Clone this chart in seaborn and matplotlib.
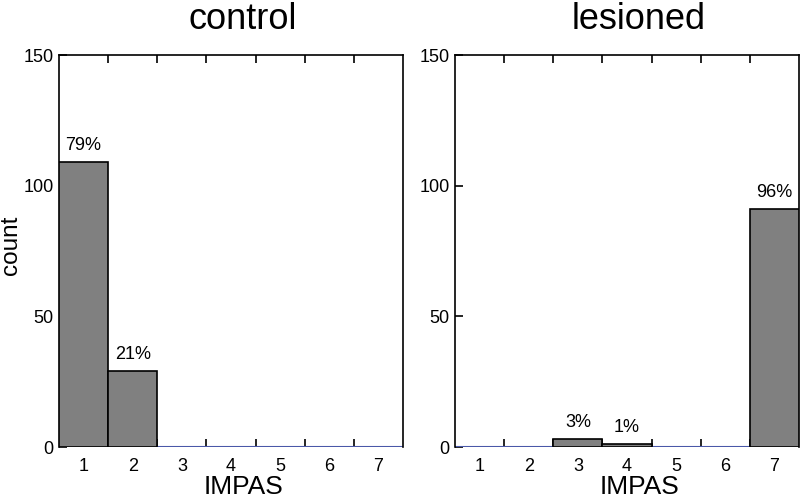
import matplotlib
matplotlib.use("Agg")
import matplotlib.pyplot as plt
import seaborn as sns
import pandas as pd
import numpy as np

sns.set_style("white")
plt.rcParams['font.family'] = ['Liberation Sans', 'DejaVu Sans']
plt.rcParams['text.color'] = 'black'
plt.rcParams['axes.labelcolor'] = 'black'
plt.rcParams['xtick.color'] = 'black'
plt.rcParams['ytick.color'] = 'black'

impas = [1, 2, 3, 4, 5, 6, 7]
control_counts = [109, 29, 0, 0, 0, 0, 0]
lesioned_counts = [0, 0, 3, 1, 0, 0, 91]
control_pct = ["79%", "21%", "", "", "", "", ""]
lesioned_pct = ["", "", "3%", "1%", "", "", "96%"]
titles = ["control", "lesioned"]
yticks = [0, 50, 100, 150]

W, H = 800, 501
fig = plt.figure(figsize=(8, 5.01), dpi=100)
ax1 = fig.add_axes([59/W, 54/H, 344/W, 392/H])
ax2 = fig.add_axes([455/W, 54/H, 344/W, 392/H])

for ax, counts, pcts, title in [(ax1, control_counts, control_pct, titles[0]),
                                (ax2, lesioned_counts, lesioned_pct, titles[1])]:
    df = pd.DataFrame({"IMPAS": impas, "count": counts, "pct": pcts})
    dfp = df[df["count"] > 0]
    sns.barplot(data=dfp, x="IMPAS", y="count", native_scale=True, width=1,
                color="#808080", saturation=1, edgecolor="black", linewidth=1.2,
                ax=ax, zorder=3)
    ax.axhline(0, color="#4a58a8", lw=1.5, zorder=2)
    for _, r in dfp.iterrows():
        ax.annotate(r["pct"], (r["IMPAS"], r["count"]), xytext=(0, 6),
                    textcoords="offset points", ha="center", va="bottom",
                    fontsize=13, color="black")
    ax.set_xlim(0.5, 7.5)
    ax.set_ylim(0, 150)
    ax.set_xticks(np.arange(1.5, 7.5, 1))
    ax.set_xticklabels([])
    ax.set_xticks(impas, minor=True)
    ax.set_xticklabels([str(i) for i in impas], minor=True, fontsize=13)
    ax.tick_params(axis="x", which="major", direction="in", length=6, width=1.2,
                   top=True, bottom=True, colors="black")
    ax.tick_params(axis="x", which="minor", length=0, pad=8, colors="black")
    ax.set_yticks(yticks)
    ax.set_yticklabels([str(v) for v in yticks], fontsize=13)
    ax.tick_params(axis="y", direction="in", length=6, width=1.2, left=True,
                   right=False, pad=4, colors="black")
    for s in ax.spines.values():
        s.set_visible(True)
        s.set_color("black")
        s.set_linewidth(1.2)
    ax.spines["bottom"].set_visible(False)
    ax.set_xlabel("")
    ax.set_ylabel("")
    ax.text(0.535, (H - 494 - 54) / 392, "IMPAS", transform=ax.transAxes,
            ha="center", va="baseline", fontsize=19, color="black")
    ax.text(0.535, (H - 29 - 54) / 392, title, transform=ax.transAxes,
            ha="center", va="baseline", fontsize=26, color="black")

fig.text(22 / W, (H - 245) / H, "count", rotation=90, ha="right", va="center",
         fontsize=17.5, color="black")

fig.savefig("out.png", dpi=100)
